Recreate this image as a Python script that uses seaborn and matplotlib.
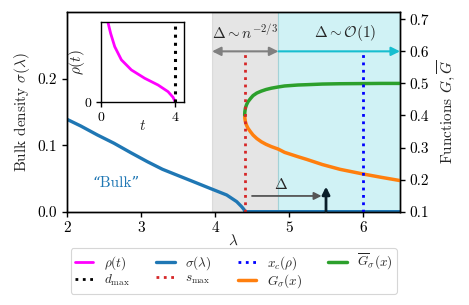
import numpy as np
import pandas as pd
import matplotlib
matplotlib.use("Agg")
import matplotlib.pyplot as plt
import seaborn as sns
from matplotlib.lines import Line2D

# ---- data ----
lam_sigma = [2.0, 2.185, 2.41, 2.635, 2.86, 3.085, 3.29, 3.48, 3.707, 3.93, 4.158,
             4.293, 4.36, 4.39, 4.405, 5.0, 6.5]
sigma = [0.139, 0.129, 0.1155, 0.103, 0.0889, 0.0753, 0.0638, 0.0553, 0.0452, 0.0352,
         0.0251, 0.0151, 0.0075, 0.0035, 0.0, 0.0, 0.0]

lam_G = [4.401, 4.403, 4.41, 4.425, 4.446, 4.48, 4.514, 4.565, 4.626, 4.69, 4.76,
         4.856, 4.94, 5.12, 5.24, 5.45, 5.69, 6.0, 6.25, 6.5]
G_sigma = [0.4015, 0.392, 0.381, 0.370, 0.360, 0.349, 0.339, 0.328, 0.318, 0.310,
           0.303, 0.295, 0.285, 0.2715, 0.263, 0.247, 0.232, 0.2175, 0.207, 0.197]
Gbar_sigma = [0.4015, 0.411, 0.4224, 0.433, 0.443, 0.453, 0.462, 0.470, 0.476, 0.481,
              0.485, 0.489, 0.492, 0.495, 0.496, 0.498, 0.499, 0.4995, 0.5, 0.5]

t_vals = [0.30, 0.378, 0.52, 0.74, 1.10, 1.64, 2.36, 3.08, 3.62, 3.89, 3.97, 4.0]
rho_vals = [1.10, 0.995, 0.86, 0.695, 0.53, 0.404, 0.30, 0.216, 0.133, 0.0625, 0.025, 0.0]

d_max = 4.0
s_max = 4.405
x_c = 6.0
gray_lo, gray_hi = 3.96, 4.856

xticks = [2, 3, 4, 5, 6]
yticks_left = [0.0, 0.1, 0.2]
yticks_right = [0.1, 0.2, 0.3, 0.4, 0.5, 0.6, 0.7]

# ---- style ----
sns.set_theme(style="ticks", context="paper")
plt.rcParams.update({
    "font.family": ["cmr10", "DejaVu Serif"],
    "mathtext.fontset": "cm",
    "axes.formatter.use_mathtext": True,
    "axes.unicode_minus": False,
    "axes.linewidth": 1.0,
    "axes.edgecolor": "black",
    "xtick.color": "black",
    "ytick.color": "black",
    "xtick.major.size": 3.5,
    "ytick.major.size": 3.5,
    "xtick.major.width": 1.0,
    "ytick.major.width": 1.0,
    "font.size": 11,
})

fig = plt.figure(figsize=(4.69, 3.05), dpi=100)
ax = fig.add_axes([0.1429, 0.306, 0.71, 0.6556])
ax2 = ax.twinx()

C_BLUE = "#1f77b4"
C_ORANGE = "#ff7f0e"
C_GREEN = "#2ca02c"
C_RED = "#d62728"
C_CYAN = "#17becf"

ax.axvspan(gray_lo, gray_hi, color="gray", alpha=0.2, zorder=0)
ax.axvspan(gray_hi, 6.5, color=C_CYAN, alpha=0.2, zorder=0)

sns.lineplot(x=lam_sigma, y=sigma, ax=ax, color=C_BLUE, lw=2.4, sort=False)
ax.text(2.35, 0.043, "\u201cBulk\u201d", color=C_BLUE, fontsize=11, va="center", ha="left",
        family=["cmr10", "DejaVu Serif"])

ax.set_xlim(2, 6.5)
ax.set_ylim(0, 0.301)
ax.set_xticks(xticks)
ax.set_yticks(yticks_left)
ax.set_xticklabels([str(v) for v in xticks], fontsize=11)
ax.set_yticklabels([f"{v:.1f}" for v in yticks_left], fontsize=11)
ax.set_xlabel(r"$\lambda$", fontsize=11, labelpad=-1)
ax.set_ylabel(r"Bulk density $\sigma(\lambda)$", fontsize=11)

sns.lineplot(x=lam_G, y=G_sigma, ax=ax2, color=C_ORANGE, lw=2.5, sort=False)
sns.lineplot(x=lam_G, y=Gbar_sigma, ax=ax2, color=C_GREEN, lw=2.5, sort=False)
ax2.plot([s_max, s_max], [0.1, 0.6], ls=":", color=C_RED, lw=2)
ax2.plot([x_c, x_c], [0.1, 0.6], ls=":", color="blue", lw=2)
ax2.set_ylim(0.1, 0.7236)
ax2.set_yticks(yticks_right)
ax2.set_yticklabels([f"{v:.1f}" for v in yticks_right], fontsize=11)
ax2.set_ylabel(r"Functions $G, \overline{G}$", fontsize=11)

ax2.annotate("", xy=(gray_lo, 0.6), xytext=(gray_hi, 0.6),
             arrowprops=dict(arrowstyle="<|-|>", color="gray", lw=1.5, mutation_scale=13,
                             shrinkA=0, shrinkB=0), annotation_clip=False)
ax2.annotate("", xy=(6.5, 0.6), xytext=(gray_hi, 0.6),
             arrowprops=dict(arrowstyle="-|>", color=C_CYAN, lw=1.5, mutation_scale=13,
                             shrinkA=0, shrinkB=0), annotation_clip=False)
ax2.text(4.4, 0.657, r"$\Delta \sim n^{-2/3}$", ha="center", va="center", fontsize=11)
ax2.text(5.76, 0.657, r"$\Delta \sim \mathcal{O}(1)$", ha="center", va="center", fontsize=11)
ax2.annotate("", xy=(5.44, 0.149), xytext=(4.5, 0.149),
             arrowprops=dict(arrowstyle="-|>", color="#555555", lw=1.3, mutation_scale=11,
                             shrinkA=0, shrinkB=0))
ax2.text(4.89, 0.186, r"$\Delta$", ha="center", va="center", fontsize=11)
ax2.annotate("", xy=(5.5, 0.178), xytext=(5.5, 0.1),
             arrowprops=dict(arrowstyle="-|>", color="#0a1f2a", lw=2, mutation_scale=11,
                             shrinkA=0, shrinkB=0), annotation_clip=False)

# inset
axi = fig.add_axes([0.2154, 0.6646, 0.1776, 0.2626])
sns.lineplot(x=t_vals, y=rho_vals, ax=axi, color="magenta", lw=2, sort=False)
axi.axvline(d_max, ls=":", color="black", lw=2.2)
axi.set_xlim(0, 4.5)
axi.set_ylim(0, 1.0)
axi.set_xticks([0, 4])
axi.set_xticklabels(["0", "4"], fontsize=10)
axi.set_yticks([0])
axi.set_yticklabels(["0"], fontsize=10)
axi.set_xlabel(r"$t$", fontsize=11, labelpad=-4)
axi.set_ylabel(r"$\rho(t)$", fontsize=11, labelpad=-2)

handles = [
    Line2D([], [], color="magenta", lw=2),
    Line2D([], [], color="black", ls=":", lw=2),
    Line2D([], [], color=C_BLUE, lw=2.4),
    Line2D([], [], color=C_RED, ls=":", lw=2),
    Line2D([], [], color="blue", ls=":", lw=2),
    Line2D([], [], color=C_ORANGE, lw=2.5),
    Line2D([], [], color=C_GREEN, lw=2.5),
]
labels = [r"$\rho(t)$", r"$d_{\max}$", r"$\sigma(\lambda)$", r"$s_{\max}$",
          r"$x_c(\rho)$", r"$G_\sigma(x)$", r"$\overline{G}_\sigma(x)$"]
fig.legend(handles, labels, loc="upper center", bbox_to_anchor=(0.4985, 0.186), ncol=4,
           fontsize=9.5, frameon=True, handlelength=1.4, columnspacing=2.0,
           borderpad=0.3, labelspacing=0.0, handletextpad=0.8, borderaxespad=0)

fig.savefig("out.png", dpi=100)
